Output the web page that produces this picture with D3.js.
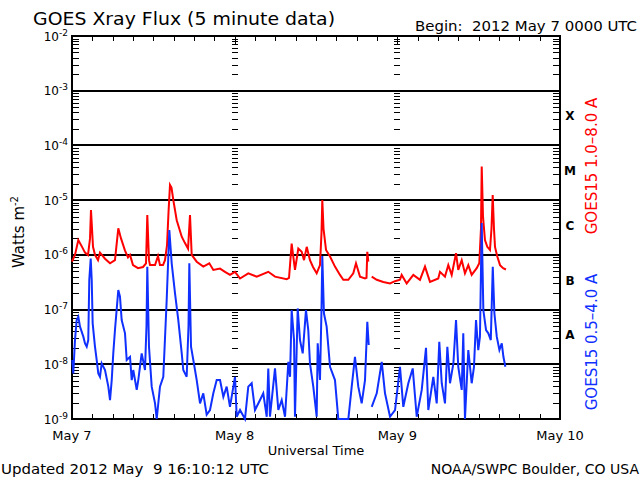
<!DOCTYPE html>
<html>
<head>
<meta charset="utf-8">
<script src="https://cdn.jsdelivr.net/npm/d3@7"></script>
<style>
  body { margin: 0; background: #fff; }
  text { font-family: "DejaVu Sans", sans-serif; fill: #000; }
</style>
</head>
<body>
<svg id="chart" width="640" height="480"></svg>
<script>
// times are hours after 2012 May 7 0000 UTC, null flux = data gap
const redHours = [0, 0.44, 0.93, 1.48, 1.92, 2.36, 2.66, 2.80, 3.10, 3.39, 3.84, 4.13, 4.87, 5.61, 6.34, 6.83, 7.23, 7.82, 8.26, 8.56,
  9.0, 9.74, 10.48, 10.92, 11.11, 11.36, 11.51, 12.25, 12.69, 12.98, 13.43, 13.72, 14.02, 14.24, 14.46, 14.68, 14.95, 15.45, 16.19, 16.67,
  17.12, 17.41, 17.66, 18.40, 19.37, 20.26, 20.85, 21.84, 22.57, 23.31, 24.05, 24.79, 26.01, 27.25, 28.96, 29.95, 31.68, 32.02, 32.41, 32.90,
  33.39, 33.89, 34.23, 34.63, 35.11, 35.56, 36.10, 36.59, 36.81, 36.93, 37.11, 37.48, 38.07, 38.80, 39.54, 40.03, 40.77, 41.50, 41.90, 42.49,
  43.23, 43.45, 43.57, 43.72, 43.95, 44.22, 44.96, 45.93, 46.92, 47.66, 48.39, 48.64, 49.38, 50.36, 51.34, 52.08, 52.82, 54.04, 54.29, 55.03,
  55.52, 56.02, 56.66, 56.99, 57.50, 57.98, 58.47, 58.97, 59.71, 60.09, 60.34, 60.45, 60.64, 60.93, 61.27, 61.67, 61.89, 62.07, 62.26, 62.41,
  62.75, 63.15, 63.61, 64.03]
const redFlux = [7.5e-7, 1.0e-6, 1.87e-6, 1.4e-6, 1.1e-6, 9.9e-7, 2.0e-6, 6.6e-6, 1.4e-6, 1.0e-6, 8.0e-7, 1.1e-6, 8.5e-7, 7.0e-7, 8.0e-7, 3.05e-6, 2.0e-6, 1.2e-6, 9.0e-7, 1.0e-6,
  6.5e-7, 5.7e-7, 6.0e-7, 7.0e-7, 5.35e-6, 8.0e-7, 6.5e-7, 6.5e-7, 9.5e-7, 6.5e-7, 6.5e-7, 8.0e-7, 1.5e-6, 6.0e-6, 1.9e-5, 1.7e-5, 1.0e-5, 4.3e-6, 2.15e-6, 1.64e-6,
  1.3e-6, 5.35e-6, 1.0e-6, 7.5e-7, 6.1e-7, 7.0e-7, 5.3e-7, 5.6e-7, 4.9e-7, 4.3e-7, 4.9e-7, 3.7e-7, 4.6e-7, 4.0e-7, 4.9e-7, 4.0e-7, 3.6e-7, 3.8e-7, 1.6e-6, 5.3e-7,
  1.3e-6, 1.14e-6, 8.0e-7, 1.4e-6, 8.0e-7, 6.0e-7, 4.6e-7, 6.5e-7, 2.5e-6, 1.0e-5, 3.0e-6, 1.23e-6, 9.3e-7, 6.1e-7, 4.3e-7, 3.5e-7, 3.5e-7, 4.6e-7, 7.0e-7, 4.0e-7,
  3.7e-7, 3.8e-7, 1.14e-6, 7.5e-7, null, 4.0e-7, 3.5e-7, 3.2e-7, 3.0e-7, 3.3e-7, 3.5e-7, 4.3e-7, 3.0e-7, 4.3e-7, 3.5e-7, 6.1e-7, 3.2e-7, 3.7e-7, 4.9e-7, 4.0e-7,
  6.5e-7, 4.3e-7, 1.07e-6, 5.3e-7, 8.0e-7, 4.6e-7, 6.5e-7, 4.3e-7, 5.7e-7, 7.0e-7, 3.0e-6, 4.1e-5, 5.0e-6, 1.87e-6, 1.4e-6, 1.23e-6, 3.0e-6, 1.24e-5, 3.0e-6, 1.4e-6,
  9.3e-7, 6.5e-7, 5.7e-7, 5.4e-7]

const blueHours = [0.04, 0.19, 0.44, 0.69, 0.93, 1.18, 1.67, 1.92, 2.17, 2.40, 2.55, 2.76, 2.91, 3.05, 3.39, 3.64, 3.88, 4.13, 4.38, 4.87,
  5.36, 5.61, 5.86, 6.09, 6.34, 6.83, 7.08, 7.33, 7.82, 8.07, 8.56, 8.81, 9.04, 9.55, 9.78, 10.28, 10.77, 10.99, 11.11, 11.36,
  11.76, 12.25, 12.50, 12.98, 13.47, 13.97, 14.36, 14.71, 15.20, 15.68, 16.19, 16.42, 16.92, 17.19, 17.31, 17.56, 17.90, 18.40, 18.89, 19.37,
  19.87, 20.36, 20.85, 21.35, 21.84, 22.33, 22.82, 23.31, 24.05, 24.30, 24.79, 25.52, 26.01, 26.51, 27.00, 27.74, 28.22, 28.73, 28.96, 29.21,
  29.95, 30.44, 30.94, 31.43, 31.92, 32.17, 32.41, 32.76, 32.90, 33.30, 33.64, 34.04, 34.52, 34.86, 35.11, 35.60, 36.10, 36.25, 36.59, 36.81,
  36.93, 37.17, 37.57, 38.07, 38.80, 39.29, 40.03, 40.77, 41.27, 41.75, 42.24, 42.74, 43.23, 43.57, 43.78, 43.95, 44.22, 44.96, 45.70, 46.18,
  46.92, 47.66, 48.39, 48.88, 49.62, 50.27, 50.86, 51.60, 52.23, 52.57, 53.31, 53.81, 54.19, 54.55, 55.03, 55.38, 55.77, 56.27, 56.66, 56.99,
  57.50, 57.73, 57.98, 58.47, 58.97, 59.31, 59.61, 59.94, 60.19, 60.45, 60.69, 61.09, 61.43, 61.79, 62.08, 62.32, 62.67, 63.06, 63.41, 63.65,
  63.94]
const blueFlux = [1.2e-8, 6.8e-9, 2.77e-8, 6.45e-8, 7.4e-8, 4.87e-8, 3.2e-8, 2.41e-8, 2.1e-8, 2.77e-8, 3.47e-7, 8.6e-7, 3.47e-7, 5.6e-8, 2.1e-8, 1.2e-8, 6.8e-9, 5.9e-9, 1.04e-8, 7.85e-9,
  3.9e-9, 2.22e-9, 5.15e-9, 1.58e-8, 4.23e-8, 2.27e-7, 1.72e-7, 6.45e-8, 3.68e-8, 1.2e-8, 1.37e-8, 5.15e-9, 7.85e-9, 3.4e-9, 5.15e-9, 1.58e-8, 7.85e-9, 5.0e-8, 6.07e-7, 2.09e-8,
  3.9e-9, 1.93e-9, 9e-10, 3.9e-9, 5.9e-9, 1.5e-7, 2.85e-6, 7.0e-7, 1.98e-7, 6.45e-8, 1.58e-8, 7.85e-9, 5.9e-9, 5.0e-8, 7.0e-7, 2.09e-8, 1.2e-8, 5.15e-9, 1.93e-9, 2.95e-9,
  1.2e-9, 1.46e-9, 2.95e-9, 5.15e-9, 5.15e-9, 2.55e-9, 3.9e-9, 1.67e-9, 5.9e-9, 1.1e-9, 1.46e-9, 9e-10, 3.9e-9, 4.5e-9, 1.46e-9, 2.22e-9, 2.95e-9, 1.1e-9, 8.4e-9, 1.1e-9,
  8.4e-9, 1.46e-9, 2.22e-9, 1.1e-9, 1.11e-8, 5.9e-9, 9.8e-8, 2.77e-8, 1.1e-9, 1.05e-7, 2.77e-8, 1.58e-8, 9.8e-8, 4.23e-8, 1.04e-8, 3.9e-9, 1.1e-9, 2.41e-8, 5.15e-9, 1.0e-7,
  9.5e-7, 8.55e-8, 4.87e-8, 9.0e-9, 5.15e-9, 9e-10, 9e-10, 9e-10, 3.9e-9, 1.37e-8, 3.9e-9, 1.93e-9, 5.15e-9, 6.0e-8, 2.25e-8, null, 1.67e-9, 2.95e-9, 1.11e-8, 2.95e-9,
  1.1e-9, 1.46e-9, 9.0e-9, 1.67e-9, 4.5e-9, 8.4e-9, 1.1e-9, 3.4e-9, 2.0e-8, 1.46e-9, 5.9e-9, 1.93e-9, 2.58e-8, 4.5e-9, 1.93e-9, 2.09e-8, 4.5e-9, 1.04e-8, 6.45e-8, 9.0e-9,
  3.4e-9, 3.68e-8, 9e-10, 1.82e-8, 4.5e-9, 9.0e-9, 6.45e-8, 1.82e-8, 3.19e-8, 3.8e-6, 9.8e-8, 4.23e-8, 3.68e-8, 2.77e-8, 6.07e-7, 8.55e-8, 3.19e-8, 1.82e-8, 2.41e-8, 1.37e-8,
  9.0e-9]

const dayLabels = ["May 7", "May 8", "May 9", "May 10"]
const decadeExps = [-9, -8, -7, -6, -5, -4, -3, -2]
const flareClasses = ["A", "B", "C", "M", "X"]
const classFlux = [1e-8, 1e-7, 1e-6, 1e-5, 1e-4]

const svg = d3.select("#chart")
const plotL = 72, plotR = 560, plotT = 36, plotB = 419

const x = d3.scaleLinear().domain([0, 72]).range([plotL, plotR])
const y = d3.scaleLog().domain([1e-9, 1e-2]).range([plotB, plotT]).clamp(true)

const toPoints = (hrs, flux) => hrs.map((h, i) => ({h, v: flux[i]}))

// minor log ticks (2..9 in each decade)
let minors = []
for (const e of decadeExps.slice(0, -1)) {
  for (let k = 2; k <= 9; k++) minors.push(k * Math.pow(10, e))
}

const axes = svg.append("g").attr("stroke", "#000").attr("shape-rendering", "crispEdges")

// decade grid lines
axes.selectAll("line.grid")
  .data(decadeExps.slice(1, -1))
  .enter().append("line")
    .attr("x1", plotL).attr("x2", plotR)
    .attr("y1", (e) => Math.round(y(Math.pow(10, e)))).attr("y2", (e) => Math.round(y(Math.pow(10, e))))
    .attr("stroke-width", 2)

// minor ticks on left and right frame and at the day lines
const tickCols = [[plotL, plotL + 7], [plotR - 7, plotR], [x(24) - 3, x(24) + 3], [x(48) - 3, x(48) + 3]]
for (const [a, b] of tickCols) {
  axes.append("g").selectAll("line")
    .data(minors)
    .enter().append("line")
      .attr("x1", a).attr("x2", b)
      .attr("y1", (d) => Math.round(y(d)) + 0.5).attr("y2", (d) => Math.round(y(d)) + 0.5)
      .attr("stroke-width", 1)
}

// time ticks every 3 hours, top and bottom
const hourTicks = d3.range(3, 72, 3)
axes.append("g").selectAll("line")
  .data(hourTicks)
  .enter().append("line")
    .attr("x1", (d) => Math.round(x(d)) + 0.5).attr("x2", (d) => Math.round(x(d)) + 0.5)
    .attr("y1", plotT).attr("y2", (d) => plotT + (d % 24 === 0 ? 8 : 5))
axes.append("g").selectAll("line")
  .data(hourTicks)
  .enter().append("line")
    .attr("x1", (d) => Math.round(x(d)) + 0.5).attr("x2", (d) => Math.round(x(d)) + 0.5)
    .attr("y1", plotB).attr("y2", (d) => plotB - (d % 24 === 0 ? 8 : 5))

// frame
axes.append("rect")
  .attr("x", plotL).attr("y", plotT)
  .attr("width", plotR - plotL).attr("height", plotB - plotT)
  .attr("fill", "none").attr("stroke-width", 2)

///// DATA LINES /////
const line = d3.line()
  .defined((d) => d.v !== null)
  .x((d) => x(d.h))
  .y((d) => y(d.v))

svg.append("path")
  .datum(toPoints(redHours, redFlux))
  .attr("d", line)
  .attr("fill", "none")
  .attr("stroke", "#ff0000")
  .attr("stroke-width", 2)

svg.append("path")
  .datum(toPoints(blueHours, blueFlux))
  .attr("d", line)
  .attr("fill", "none")
  .attr("stroke", "#1030ff")
  .attr("stroke-width", 2)

///// LABELS /////
const yLabels = svg.append("g").selectAll("text")
  .data(decadeExps)
  .enter().append("text")
    .attr("x", 68)
    .attr("y", (e) => y(Math.pow(10, e)) + 4.5)
    .attr("text-anchor", "end")
    .attr("font-size", 12)
    .text("10")
yLabels.append("tspan")
  .attr("dy", -5)
  .attr("font-size", 9)
  .text((e) => e)

svg.append("g").selectAll("text")
  .data(dayLabels)
  .enter().append("text")
    .attr("x", (_, i) => x(i * 24))
    .attr("y", 440)
    .attr("text-anchor", "middle")
    .attr("font-size", 13)
    .text((d) => d)

svg.append("g").selectAll("text")
  .data(flareClasses)
  .enter().append("text")
    .attr("x", 570)
    .attr("y", (_, i) => y(classFlux[i]) - 25)
    .attr("text-anchor", "middle")
    .attr("font-family", "'Liberation Serif', serif")
    .attr("font-weight", "bold")
    .attr("font-size", 12)
    .text((d) => d)

svg.append("text")
  .attr("x", 33).attr("y", 25)
  .attr("font-size", 17)
  .attr("textLength", 302).attr("lengthAdjust", "spacingAndGlyphs")
  .text("GOES Xray Flux (5 minute data)")

svg.append("text")
  .attr("x", 415).attr("y", 31)
  .attr("font-size", 14)
  .attr("textLength", 222).attr("lengthAdjust", "spacingAndGlyphs")
  .attr("xml:space", "preserve")
  .text("Begin:  2012 May 7 0000 UTC")

svg.append("text")
  .attr("x", 316).attr("y", 455)
  .attr("text-anchor", "middle")
  .attr("font-size", 13)
  .text("Universal Time")

svg.append("text")
  .attr("x", 1).attr("y", 474)
  .attr("font-size", 14)
  .attr("textLength", 268).attr("lengthAdjust", "spacingAndGlyphs")
  .attr("xml:space", "preserve")
  .text("Updated 2012 May  9 16:10:12 UTC")

svg.append("text")
  .attr("x", 639).attr("y", 474)
  .attr("text-anchor", "end")
  .attr("font-size", 14)
  .text("NOAA/SWPC Boulder, CO USA")

const yTitle = svg.append("text")
  .attr("transform", "translate(24,232) rotate(-90)")
  .attr("text-anchor", "middle")
  .attr("font-size", 15)
  .text("Watts m")
yTitle.append("tspan").attr("dy", -6).attr("font-size", 10).text("-2")

svg.append("text")
  .attr("transform", "translate(597,166) rotate(-90)")
  .attr("text-anchor", "middle")
  .attr("font-size", 15)
  .style("fill", "#ff0000")
  .text("GOES15 1.0\u20138.0 A")

svg.append("text")
  .attr("transform", "translate(597,342) rotate(-90)")
  .attr("text-anchor", "middle")
  .attr("font-size", 15)
  .style("fill", "#1030ff")
  .text("GOES15 0.5\u20134.0 A")
</script>
</body>
</html>
